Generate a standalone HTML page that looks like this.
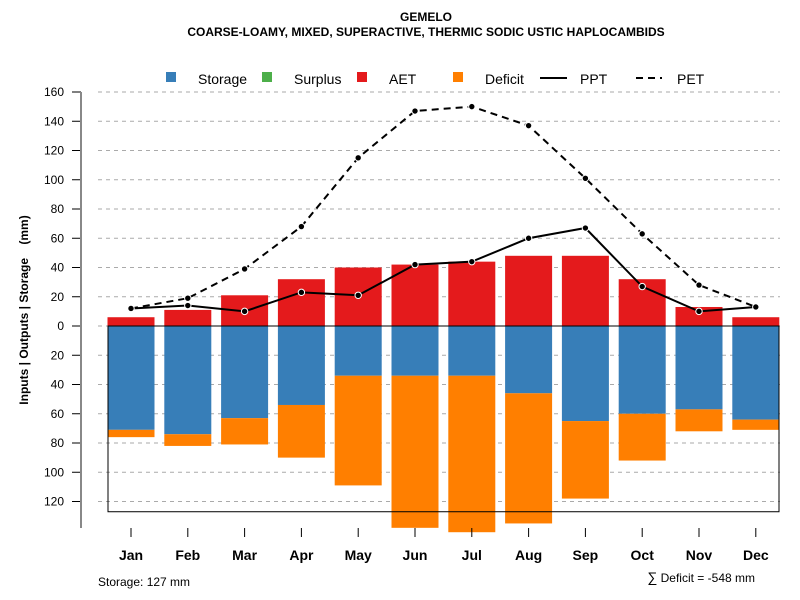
<!DOCTYPE html>
<html><head><meta charset="utf-8"><style>
html,body{margin:0;padding:0;background:#fff;}
svg{display:block;font-family:"Liberation Sans",Arial,sans-serif;}
</style></head><body>
<svg id="chart" width="800" height="600" viewBox="0 0 800 600">
<text x="426" y="21" text-anchor="middle" font-size="12" font-weight="bold">GEMELO</text>
<text x="426" y="36" text-anchor="middle" font-size="12" font-weight="bold">COARSE-LOAMY, MIXED, SUPERACTIVE, THERMIC SODIC USTIC HAPLOCAMBIDS</text>
<g id="legend">
<rect x="166" y="72" width="10" height="10" fill="#377eb8"/>
<text x="198" y="84" font-size="14">Storage</text>
<rect x="262" y="72" width="10" height="10" fill="#4daf4a"/>
<text x="294" y="84" font-size="14">Surplus</text>
<rect x="357" y="72" width="10" height="10" fill="#e41a1c"/>
<text x="389" y="84" font-size="14">AET</text>
<rect x="453" y="72" width="10" height="10" fill="#ff7f00"/>
<text x="485" y="84" font-size="14">Deficit</text>
<line x1="540" y1="78" x2="567" y2="78" stroke="#000" stroke-width="2"/>
<text x="580" y="84" font-size="14">PPT</text>
<line x1="636" y1="78" x2="662" y2="78" stroke="#000" stroke-width="2" stroke-dasharray="7,5"/>
<text x="677" y="84" font-size="14">PET</text>
</g>
<g id="plot"></g>
<text x="98" y="586" font-size="12">Storage: 127 mm</text>
<text x="755" y="582" text-anchor="end" font-size="12"><tspan font-size="14">∑</tspan> Deficit = -548 mm</text>
<text transform="translate(28,310) rotate(-90)" text-anchor="middle" font-size="12" font-weight="bold" style="white-space:pre">Inputs | Outputs | Storage    (mm)</text>
</svg>
<script>
const months=["Jan","Feb","Mar","Apr","May","Jun","Jul","Aug","Sep","Oct","Nov","Dec"];
const aet=[6,11,21,32,40,42,44,48,48,32,13,6];
const storage=[71,74,63,54,34,34,34,46,65,60,57,64];
const deficit=[5,8,18,36,75,104,107,89,53,32,15,7];
const ppt=[12,14,10,23,21,42,44,60,67,27,10,13];
const pet=[12,19,39,68,115,147,150,137,101,63,28,13];
const yTicks=[160,140,120,100,80,60,40,20,0,20,40,60,80,100,120];
const yTickVals=[160,140,120,100,80,60,40,20,0,-20,-40,-60,-80,-100,-120];
const awc=127;
const NS="http://www.w3.org/2000/svg";
const g=document.getElementById('plot');
const y0=326,k=1.4625;
const Y=v=>y0-v*k;
const X=i=>131+i*56.8;
const bw=47;
function mk(t,a){const e=document.createElementNS(NS,t);for(const n in a)e.setAttribute(n,a[n]);g.appendChild(e);return e;}
yTickVals.forEach((v,i)=>{
 const gl=mk('line',{x1:98,x2:780,y1:Y(v),y2:Y(v),stroke:'#aaa','stroke-dasharray':'4,4'});
 
 
 const t=mk('line',{x1:72,x2:81,y1:Y(v),y2:Y(v),stroke:'#000'});
 
 
 const l=mk('text',{x:64,y:Y(v)+4,'text-anchor':'end','font-size':12});
 l.textContent=yTicks[i];
 
 
});
const ax=mk('line',{x1:81,x2:81,y1:92,y2:528,stroke:'#888','stroke-width':2});


months.forEach((m,i)=>{
 const x=X(i);
 const a=mk('rect',{x:x-bw/2,y:Y(aet[i]),width:bw,height:aet[i]*k,fill:'#e41a1c'});
 
 
 const s=mk('rect',{x:x-bw/2,y:y0,width:bw,height:storage[i]*k,fill:'#377eb8'});
 
 
 const d=mk('rect',{x:x-bw/2,y:Y(-storage[i]),width:bw,height:deficit[i]*k,fill:'#ff7f00'});
 
 
 const t=mk('line',{x1:x,x2:x,y1:528,y2:537,stroke:'#000'});
 
 
 const l=mk('text',{x:x,y:560,'text-anchor':'middle','font-size':14,'font-weight':'bold'});
 l.textContent=m;
 
 
});
const box=mk('rect',{x:108,y:y0,width:671,height:awc*k,fill:'none',stroke:'#000'});


function series(arr,dash,name){
 const p=mk('polyline',{points:arr.map((v,i)=>X(i)+','+Y(v)).join(' '),fill:'none',stroke:'#000','stroke-width':2,'stroke-dasharray':dash});
 
 
 arr.forEach((v,i)=>{
  const c=mk('circle',{cx:X(i),cy:Y(v),r:3.2,fill:'#000',stroke:'#fff','stroke-width':1});
  
  
 });
}
series(pet,'7,5','pet');
series(ppt,'none','ppt');
</script>
</body></html>
